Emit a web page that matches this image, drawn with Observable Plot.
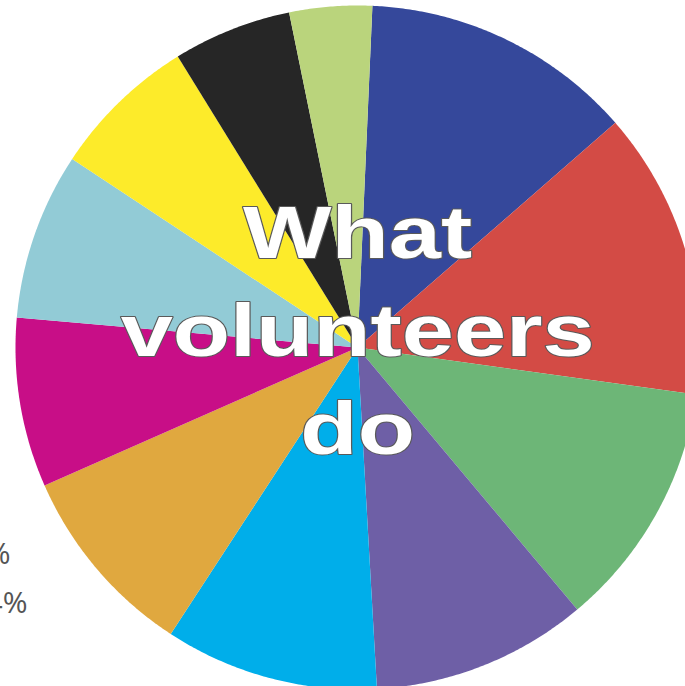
<!DOCTYPE html>
<html>
<head>
<meta charset="utf-8">
<script src="https://cdn.jsdelivr.net/npm/d3@7"></script>
<script src="https://cdn.jsdelivr.net/npm/@observablehq/plot@0.6"></script>
<style>
  html, body { margin: 0; padding: 0; background: #fff; overflow: hidden; }
  #chart { width: 685px; height: 686px; overflow: hidden; }
</style>
</head>
<body>
<div id="chart"></div>
<script>
// Slices, clockwise from top (values in %)
const categories = ["Fundraising", "Organising events", "Committee work", "Practical help", "Befriending", "Leading a group", "Giving advice", "Transport", "Campaigning", "Representing", "Other"];
const values = [12.9, 13.6, 11.7, 10.2, 10.1, 9.2, 8.0, 7.9, 6.9, 5.6, 3.9];
const colors = ["#35489b", "#d34b45", "#6db677", "#6e5fa6", "#00aeea", "#e0a83f", "#c80e87", "#92cbd6", "#fdeb2a", "#262626", "#bad47c"];
const titleText = "What\nvolunteers\ndo";
const sideLabels = ["6%", "4%"];

const startAngle = 2.5; // degrees, clockwise from 12 o'clock
const total = d3.sum(values);

// Build slice polygons in unit-circle data space (y up)
const slicePoints = [];
let acc = startAngle;
categories.forEach((c, i) => {
  const a0 = acc, a1 = acc + values[i] / total * 360;
  acc = a1;
  slicePoints.push({cat: c, x: 0, y: 0});
  const n = Math.max(2, Math.ceil((a1 - a0) / 0.4));
  for (let k = 0; k <= n; k++) {
    const a = (a0 + (a1 - a0) * k / n) * Math.PI / 180;
    slicePoints.push({cat: c, x: Math.sin(a), y: Math.cos(a)});
  }
  slicePoints.push({cat: c, x: 0, y: 0});
});

const W = 685, H = 686;
const cx = 357, cy = 347, R = 342;

const plot = Plot.plot({
  width: W,
  height: H,
  margin: 0,
  x: {domain: [-cx / R, (W - cx) / R], axis: null},
  y: {domain: [-(H - cy) / R, cy / R], axis: null},
  color: {domain: categories, range: colors, type: "ordinal"},
  style: {background: "#fff", overflow: "hidden"},
  marks: [
    Plot.line(slicePoints, {x: "x", y: "y", z: "cat", fill: "cat", stroke: "none", curve: "linear", clip: true}),
    Plot.text([titleText], {
      x: () => 0, y: () => 0,
      text: d => d,
      fontFamily: "Liberation Sans, Arial, sans-serif",
      fontWeight: "bold",
      fontSize: 75,
      lineHeight: 1.31,
      lineAnchor: "middle",
      textAnchor: "middle",
      fill: "#fff",
      stroke: "#5a5a5a",
      strokeWidth: 2,
      paintOrder: "stroke",
      dy: -23
    }),
    Plot.text([sideLabels[0]], {
      text: d => d, frameAnchor: "left", textAnchor: "end", lineAnchor: "bottom",
      dx: 10, dy: 563 - H / 2, fontSize: 30, fill: "#555",
      fontFamily: "Open Sans, sans-serif"
    }),
    Plot.text([sideLabels[1]], {
      text: d => d, frameAnchor: "left", textAnchor: "end", lineAnchor: "bottom",
      dx: 27, dy: 612 - H / 2, fontSize: 30, fill: "#555",
      fontFamily: "Open Sans, sans-serif"
    })
  ]
});

// stretch the title horizontally about the pie centre
const px = plot.scale("x").apply(0);
const titleEl = Array.from(plot.querySelectorAll("text")).find(t => t.textContent.includes("volunteers"));
if (titleEl) {
  const tg = titleEl.parentNode;
  const wrap = document.createElementNS("http://www.w3.org/2000/svg", "g");
  wrap.setAttribute("transform", `translate(${px},0) scale(1.25,1) translate(${-px},0)`);
  tg.parentNode.insertBefore(wrap, tg);
  wrap.appendChild(tg);
}
document.getElementById("chart").appendChild(plot);
</script>
</body>
</html>
